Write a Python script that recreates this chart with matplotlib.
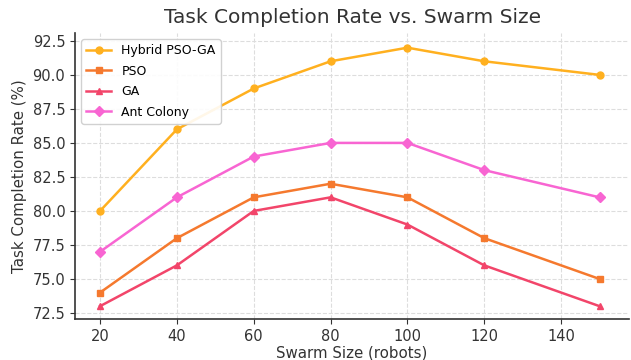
import matplotlib
matplotlib.use('Agg')
import matplotlib.pyplot as plt

swarm_size = [20, 40, 60, 80, 100, 120, 150]
hybrid = [80, 86, 89, 91, 92, 91, 90]
pso = [74, 78, 81, 82, 81, 78, 75]
ga = [73, 76, 80, 81, 79, 76, 73]
ant = [77, 81, 84, 85, 85, 83, 81]

fig, ax = plt.subplots(figsize=(6.31, 3.6), dpi=100)

ax.plot(swarm_size, hybrid, marker='o', ms=5, lw=1.8, color='#FFB01F', label='Hybrid PSO-GA')
ax.plot(swarm_size, pso, marker='s', ms=5, lw=1.8, color='#F5792E', label='PSO')
ax.plot(swarm_size, ga, marker='^', ms=5, lw=1.8, color='#F2456A', label='GA')
ax.plot(swarm_size, ant, marker='D', ms=5, lw=1.8, color='#F865D2', label='Ant Colony')

ax.set_title('Task Completion Rate vs. Swarm Size', fontsize=14.5, color='#333333', pad=7)
ax.set_xlabel('Swarm Size (robots)', fontsize=10.8, color='#333333', labelpad=1)
ax.set_ylabel('Task Completion Rate (%)', fontsize=10.8, color='#333333')
ax.set_xticks([20, 40, 60, 80, 100, 120, 140])
ax.set_yticks([72.5, 75.0, 77.5, 80.0, 82.5, 85.0, 87.5, 90.0, 92.5])
ax.set_xlim(13.5, 157.7)
ax.set_ylim(72.06, 93.07)
ax.tick_params(labelsize=10.5, colors='#333333')
ax.grid(True, ls='--', color='#dddddd', lw=0.8)
for s in ['top', 'right']:
    ax.spines[s].set_visible(False)
for s in ['left', 'bottom']:
    ax.spines[s].set_color('#333333')
    ax.spines[s].set_linewidth(1.2)
ax.legend(loc='upper left', fontsize=9, framealpha=0.9, labelspacing=0.6)

fig.subplots_adjust(left=0.119, right=0.997, top=0.908, bottom=0.114)
fig.savefig('out.png')
